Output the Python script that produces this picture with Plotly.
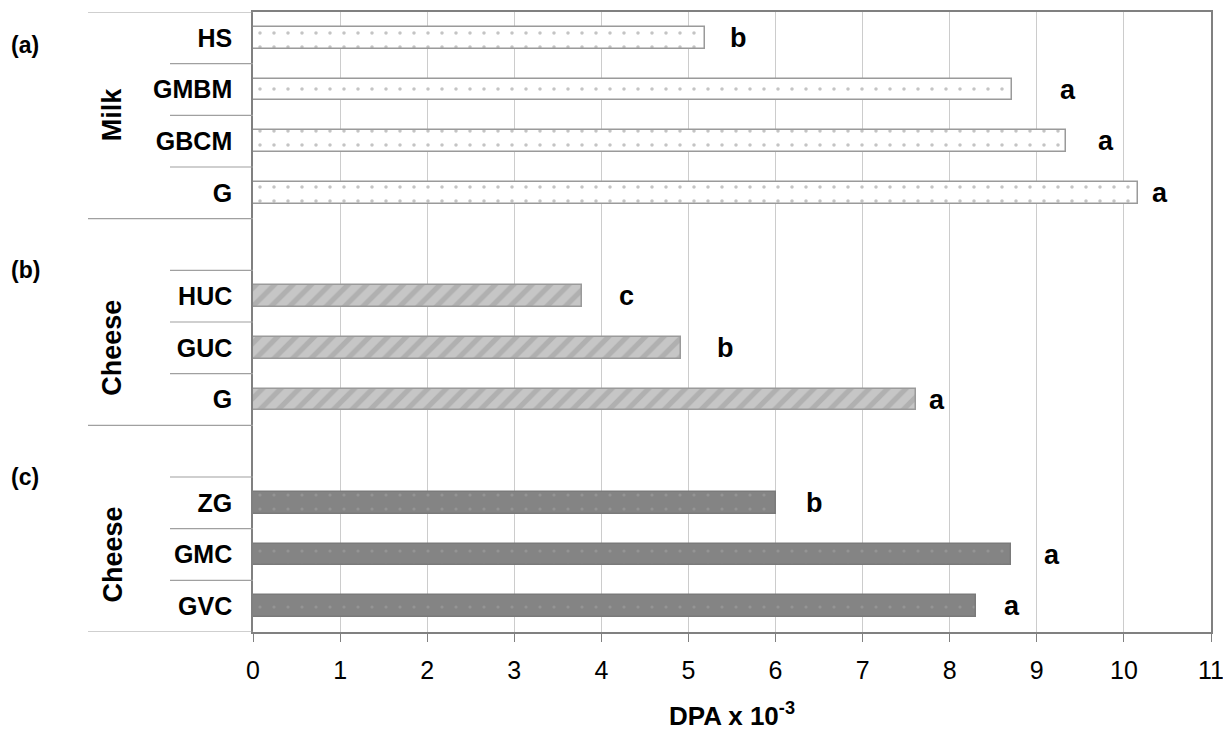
import plotly.graph_objects as go

# ---- data ----
milk_labels = ["HS", "GMBM", "GBCM", "G"]
milk_values = [5.19, 8.72, 9.33, 10.16]
milk_letters = ["b", "a", "a", "a"]
milk_letter_x = [5.57, 9.36, 9.80, 10.41]

cheese_b_labels = ["HUC", "GUC", "G"]
cheese_b_values = [3.78, 4.91, 7.61]
cheese_b_letters = ["c", "b", "a"]
cheese_b_letter_x = [4.29, 5.42, 7.85]

cheese_c_labels = ["ZG", "GMC", "GVC"]
cheese_c_values = [6.0, 8.7, 8.3]
cheese_c_letters = ["b", "a", "a"]
cheese_c_letter_x = [6.45, 9.18, 8.72]

x_ticks = list(range(0, 12))

# slot positions (blank slot between groups)
milk_pos = [0, 1, 2, 3]
cheese_b_pos = [5, 6, 7]
cheese_c_pos = [9, 10, 11]

FONT = "Liberation Sans, Arial, sans-serif"
fig = go.Figure()

fig.add_trace(go.Bar(
    y=milk_pos, x=milk_values, orientation="h", width=0.42,
    marker=dict(color="white", line=dict(color="#9a9a9a", width=1.5),
                pattern=dict(shape=".", fgcolor="#8a8a8a", bgcolor="white", size=14, solidity=0.05)),
    showlegend=False, hoverinfo="skip"))
fig.add_trace(go.Bar(
    y=cheese_b_pos, x=cheese_b_values, orientation="h", width=0.42,
    marker=dict(color="#c6c6c6", line=dict(color="#9a9a9a", width=1.5),
                pattern=dict(shape="/", fgcolor="#999999", bgcolor="#c6c6c6", size=13, solidity=0.4)),
    showlegend=False, hoverinfo="skip"))
fig.add_trace(go.Bar(
    y=cheese_c_pos, x=cheese_c_values, orientation="h", width=0.42,
    marker=dict(color="#848484", line=dict(color="#7a7a7a", width=1.5),
                pattern=dict(shape=".", fgcolor="#a4a4a4", bgcolor="#848484", size=14, solidity=0.04)),
    showlegend=False, hoverinfo="skip"))

# significance letters
for xs, ys, ls in [(milk_letter_x, milk_pos, milk_letters),
                   (cheese_b_letter_x, cheese_b_pos, cheese_b_letters),
                   (cheese_c_letter_x, cheese_c_pos, cheese_c_letters)]:
    for xv, yv, lt in zip(xs, ys, ls):
        fig.add_annotation(x=xv, y=yv, text="<b>%s</b>" % lt, showarrow=False,
                           xanchor="center", yanchor="middle",
                           font=dict(family=FONT, size=27, color="black"))

# category separator lines on the left (page pixel -> paper fraction)
W = 958.0
def px(p):
    return (p - 253) / W

for b in [-0.5, 3.5, 7.5, 11.5]:
    fig.add_shape(type="line", xref="paper", yref="y", x0=px(88), x1=0, y0=b, y1=b,
                  line=dict(color="#a0a0a0", width=1.2))
for b in [0.5, 1.5, 2.5, 4.5, 5.5, 6.5, 8.5, 9.5, 10.5]:
    fig.add_shape(type="line", xref="paper", yref="y", x0=px(170), x1=0, y0=b, y1=b,
                  line=dict(color="#a0a0a0", width=1.2))

# group labels
for txt, yc in [("Milk", 1.5), ("Cheese", 6.0), ("Cheese", 10.0)]:
    fig.add_annotation(xref="paper", yref="y", x=px(112), y=yc, text="<b>%s</b>" % txt,
                       textangle=-90, showarrow=False, xanchor="center", yanchor="middle",
                       font=dict(family=FONT, size=27, color="black"))
for txt, yc in [("(a)", 0.14), ("(b)", 4.5), ("(c)", 8.5)]:
    fig.add_annotation(xref="paper", yref="y", x=px(25), y=yc, text="<b>%s</b>" % txt,
                       showarrow=False, xanchor="center", yanchor="middle",
                       font=dict(family=FONT, size=23, color="black"))

all_pos = milk_pos + cheese_b_pos + cheese_c_pos
all_labels = milk_labels + cheese_b_labels + cheese_c_labels

# page body has an 8px margin: shrink the figure and margins to keep the plot area in place
fig.update_layout(
    width=1223, height=729,
    margin=dict(l=245, r=20, t=4, b=105),
    paper_bgcolor="white", plot_bgcolor="white",
    bargap=0,
    xaxis=dict(range=[0, 11], tickvals=x_ticks, ticktext=[str(t) for t in x_ticks],
               showgrid=True, gridcolor="#cccccc", gridwidth=1,
               showline=True, linecolor="#808080", linewidth=1.5, mirror=True,
               ticks="outside", ticklen=8, tickcolor="#808080", ticklabelstandoff=7,
               tickfont=dict(family=FONT, size=25, color="black"),
               title=dict(text="<b>DPA x 10<sup>-3</sup></b>", standoff=24,
                          font=dict(family=FONT, size=26, color="black")),
               zeroline=False, fixedrange=True, automargin=False),
    yaxis=dict(range=[11.5, -0.5], tickvals=all_pos,
               ticktext=["<b>%s</b>" % t for t in all_labels],
               showgrid=False, zeroline=False,
               showline=True, linecolor="#808080", linewidth=1.5, mirror=True,
               ticks="", ticklabelstandoff=14, automargin=False,
               tickfont=dict(family=FONT, size=25, color="black"), fixedrange=True),
)

fig.write_html("out.html")
